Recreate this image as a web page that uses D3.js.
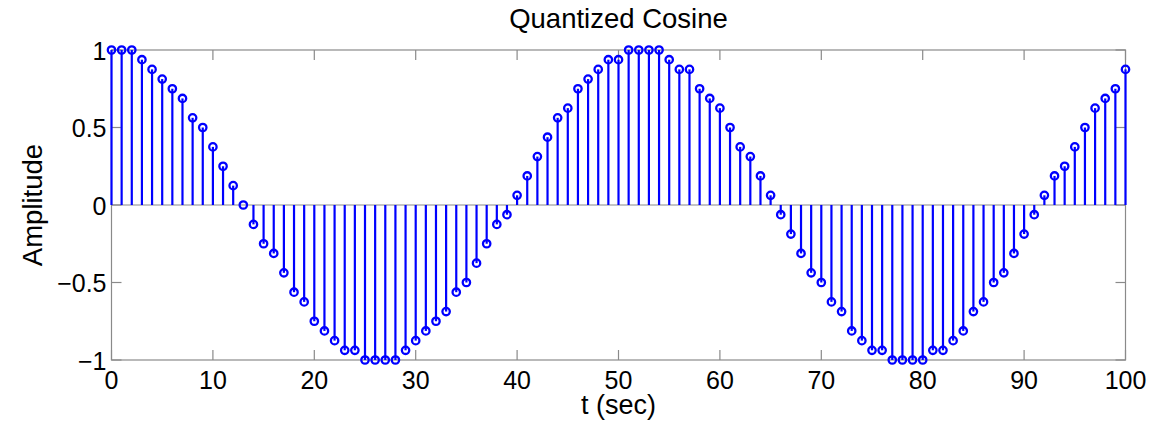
<!DOCTYPE html>
<html>
<head>
<meta charset="utf-8">
<script src="https://cdn.jsdelivr.net/npm/d3@7"></script>
<style>
  body { margin: 0; background: #fff; }
  text { font-family: "Liberation Sans", Arial, Helvetica, sans-serif; fill: #000; }
</style>
</head>
<body>
<script>
// samples t = 0..100 (sec)
var t = d3.range(0, 101);

// quantized amplitudes (steps of 1/16)
var amplitude = [
  1, 1, 1, 0.9375, 0.875, 0.8125, 0.75, 0.6875, 0.5625, 0.5,
  0.375, 0.25, 0.125, 0, -0.125, -0.25, -0.3125, -0.4375, -0.5625, -0.625,
  -0.75, -0.8125, -0.875, -0.9375, -0.9375, -1, -1, -1, -1, -0.9375,
  -0.875, -0.8125, -0.75, -0.6875, -0.5625, -0.5, -0.375, -0.25, -0.125, -0.0625,
  0.0625, 0.1875, 0.3125, 0.4375, 0.5625, 0.625, 0.75, 0.8125, 0.875, 0.9375,
  0.9375, 1, 1, 1, 1, 0.9375, 0.875, 0.875, 0.75, 0.6875,
  0.625, 0.5, 0.375, 0.3125, 0.1875, 0.0625, -0.0625, -0.1875, -0.3125, -0.4375,
  -0.5, -0.625, -0.6875, -0.8125, -0.875, -0.9375, -0.9375, -1, -1, -1,
  -1, -0.9375, -0.9375, -0.875, -0.8125, -0.6875, -0.625, -0.5, -0.4375, -0.3125,
  -0.1875, -0.0625, 0.0625, 0.1875, 0.25, 0.375, 0.5, 0.625, 0.6875, 0.75,
  0.875
];

var xTicks = [0, 10, 20, 30, 40, 50, 60, 70, 80, 90, 100];
var yTicks = [-1, -0.5, 0, 0.5, 1];
var yTickLabels = ["\u22121", "\u22120.5", "0", "0.5", "1"];

var W = 1168, H = 425;
// plot box (note: "top" is a reserved window global, so use a margin object)
var box = {l: 111.5, r: 1125.5, t: 50, b: 360};

var svg = d3.select("body")
    .append("svg")
    .attr("width", W)
    .attr("height", H);

var x = d3.scaleLinear().domain([0, 100]).range([box.l, box.r]);
var y = d3.scaleLinear().domain([-1, 1]).range([box.b, box.t]);

var axisColor = "#8a8a8a";
var tickLen = 10;

// axes box
svg.append("rect")
    .attr("x", box.l).attr("y", box.t)
    .attr("width", box.r - box.l).attr("height", box.b - box.t)
    .attr("fill", "none")
    .attr("stroke", axisColor)
    .attr("stroke-width", 1.2);

// inward ticks bottom / top
var xt = svg.append("g");
xTicks.forEach(function(d){
    xt.append("line").attr("x1", x(d)).attr("x2", x(d))
        .attr("y1", box.b).attr("y2", box.b - tickLen)
        .attr("stroke", axisColor).attr("stroke-width", 1.2);
    xt.append("line").attr("x1", x(d)).attr("x2", x(d))
        .attr("y1", box.t).attr("y2", box.t + tickLen)
        .attr("stroke", axisColor).attr("stroke-width", 1.2);
    xt.append("text")
        .attr("x", x(d)).attr("y", 389)
        .attr("text-anchor", "middle")
        .style("font-size", "25px")
        .text(d);
});

// inward ticks left / right
var yt = svg.append("g");
yTicks.forEach(function(d, i){
    yt.append("line").attr("x1", box.l).attr("x2", box.l + tickLen)
        .attr("y1", y(d)).attr("y2", y(d))
        .attr("stroke", axisColor).attr("stroke-width", 1.2);
    yt.append("line").attr("x1", box.r).attr("x2", box.r - tickLen)
        .attr("y1", y(d)).attr("y2", y(d))
        .attr("stroke", axisColor).attr("stroke-width", 1.2);
    yt.append("text")
        .attr("x", box.l - 5).attr("y", y(d) + 9.5)
        .attr("text-anchor", "end")
        .style("font-size", "25px")
        .text(yTickLabels[i]);
});

// stem baseline
svg.append("line")
    .attr("x1", box.l).attr("x2", box.r)
    .attr("y1", y(0)).attr("y2", y(0))
    .attr("stroke", axisColor).attr("stroke-width", 1.2);

var data = t.map(function(d, i){ return {t: d, v: amplitude[i]}; });

svg.append("g").selectAll("line")
    .data(data)
    .enter()
    .append("line")
    .attr("x1", function(d){ return x(d.t); })
    .attr("x2", function(d){ return x(d.t); })
    .attr("y1", y(0))
    .attr("y2", function(d){ return y(d.v); })
    .attr("stroke", "#0000ff")
    .attr("stroke-width", 2.2);

svg.append("g").selectAll("circle")
    .data(data)
    .enter()
    .append("circle")
    .attr("cx", function(d){ return x(d.t); })
    .attr("cy", function(d){ return y(d.v); })
    .attr("r", 3.7)
    .attr("fill", "none")
    .attr("stroke", "#0000ff")
    .attr("stroke-width", 2.3);

// title and labels
svg.append("text")
    .attr("x", (box.l + box.r) / 2).attr("y", 28)
    .attr("text-anchor", "middle")
    .style("font-size", "27.5px")
    .text("Quantized Cosine");

svg.append("text")
    .attr("x", (box.l + box.r) / 2).attr("y", 414)
    .attr("text-anchor", "middle")
    .style("font-size", "27px")
    .text("t (sec)");

svg.append("text")
    .attr("transform", "translate(42," + y(0) + ") rotate(-90)")
    .attr("text-anchor", "middle")
    .style("font-size", "27.5px")
    .text("Amplitude");
</script>
</body>
</html>
